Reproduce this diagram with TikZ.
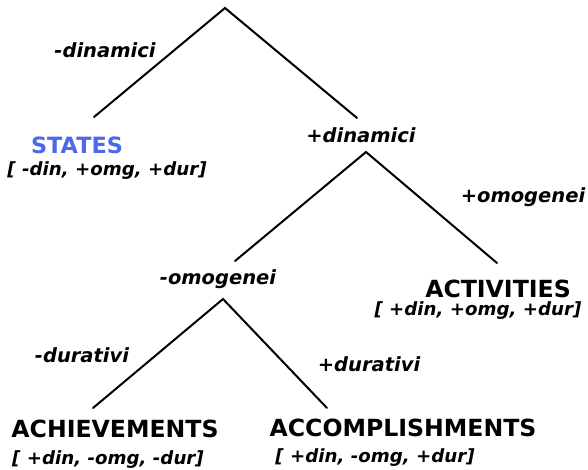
\documentclass[tikz,border=0pt]{standalone}
\usepackage{fontspec}
\setmainfont{DejaVu Sans}
\definecolor{stateblue}{RGB}{77,104,235}
\begin{document}
\begin{tikzpicture}[x=1pt,y=-1pt,
  branch/.style={line width=2pt, line cap=round},
  feat/.style={inner sep=0pt, font=\fontsize{19.5}{22}\selectfont\bfseries\itshape},
  cls/.style={inner sep=0pt, font=\fontsize{23.6}{27}\selectfont\bfseries},
  attr/.style={inner sep=0pt, font=\fontsize{18.2}{21}\selectfont\bfseries\itshape}]
\useasboundingbox (0,0) rectangle (588,469);
% tree junctions
\coordinate (r) at (225,8);
\coordinate (sL) at (94,117);
\coordinate (sR) at (357,118);
\coordinate (d) at (366,152);
\coordinate (dL) at (235,261);
\coordinate (dR) at (497,263);
\coordinate (o) at (223,299);
\coordinate (oL) at (93,408);
\coordinate (oR) at (327,408);
\draw[branch] (sL) -- (r) -- (sR);
\draw[branch] (dL) -- (d) -- (dR);
\draw[branch] (oL) -- (o) -- (oR);
% labels
\node[feat] (ldin) at (105,50) {-dinamici};
\node[feat] (pdin) at (361,135) {+dinamici};
\node[feat] (pomg) at (523,197) {+omogenei};
\node[feat] (momg) at (218,279) {-omogenei};
\node[feat] (mdur) at (82,355) {-durativi};
\node[feat] (pdur) at (369,364) {+durativi};
% classes
\node[cls, text=stateblue, font=\fontsize{22.4}{26}\selectfont\bfseries] (states) at (77,145) {STATES};
\node[attr] (statesa) at (107,171) {[ -din, +omg, +dur]};
\node[cls] (act) at (498,289) {ACTIVITIES};
\node[attr] (acta) at (478,311) {[ +din, +omg, +dur]};
\node[cls] (ach) at (115,429) {ACHIEVEMENTS};
\node[attr] (acha) at (108,460) {[ +din, -omg, -dur]};
\node[cls] (acc) at (403,428) {ACCOMPLISHMENTS};
\node[attr] (acca) at (375,458) {[ +din, -omg, +dur]};
\end{tikzpicture}
\end{document}
